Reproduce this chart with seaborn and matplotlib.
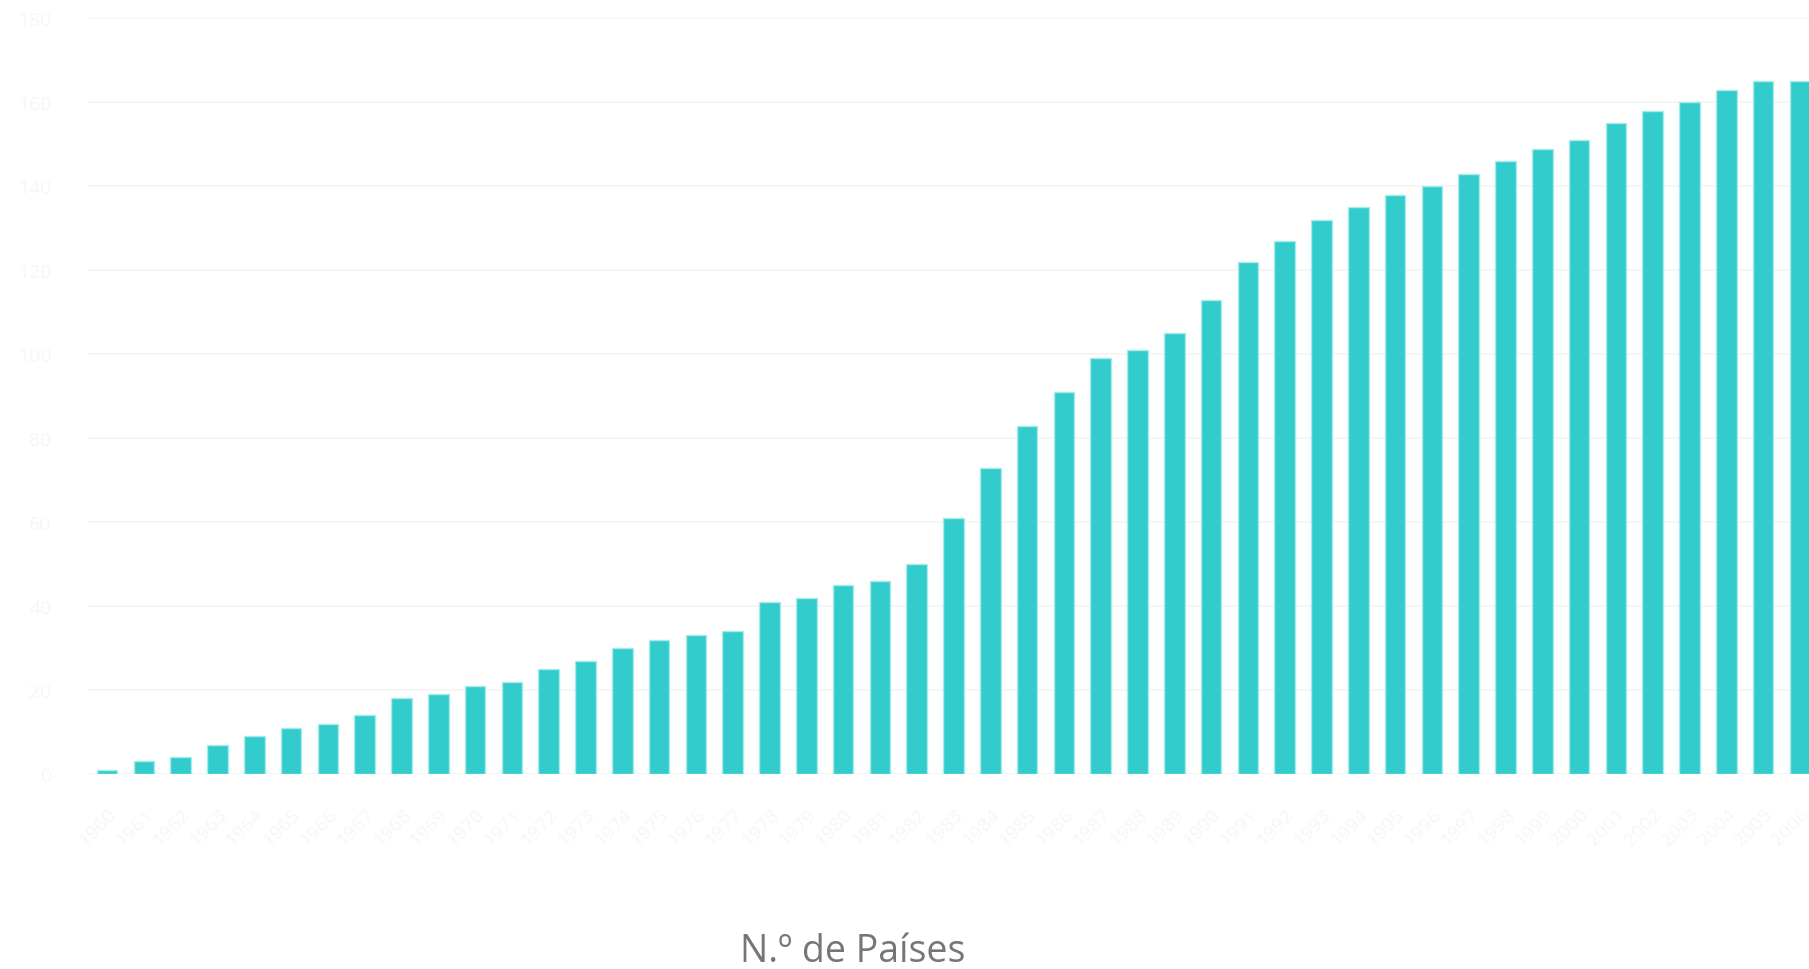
import pandas as pd
import matplotlib.pyplot as plt
import seaborn as sns

# Data (number of countries per year)
years = [str(y) for y in range(1960, 2007)]
countries = [1, 3, 4, 7, 9, 11, 12, 14, 18, 19,
             21, 22, 25, 27, 30, 32, 33, 34, 41, 42,
             45, 46, 50, 61, 73, 83, 91, 99, 101, 105,
             113, 122, 127, 132, 135, 138, 140, 143, 146, 149,
             151, 155, 158, 160, 163, 165, 165]
y_ticks = [0, 20, 40, 60, 80, 100, 120, 140, 160, 180]

df = pd.DataFrame({"Ano": years, "Países": countries})

sns.set_style("white")
plt.rcParams["font.family"] = ["Open Sans", "DejaVu Sans"]

fig = plt.figure(figsize=(18.09, 9.70), dpi=100)
ax = fig.add_axes([0.0486, 0.201, 0.9514, 0.779])

sns.barplot(data=df, x="Ano", y="Países", color="#33CCCC", saturation=1,
            width=0.56, edgecolor="#A8EBEB", linewidth=1, ax=ax, zorder=3)

ax.set_ylim(0, 180)
ax.set_xlim(-0.52, len(years) - 1 + 0.245)
ax.set_yticks(y_ticks)
ax.set_yticklabels([str(v) for v in y_ticks], color="#f6f6f6", fontsize=14)
ax.tick_params(axis="y", length=0, pad=26)
ax.tick_params(axis="x", length=0, pad=22)
plt.setp(ax.get_xticklabels(), rotation=45, ha="right", rotation_mode="anchor",
         color="#f7f7f7", fontsize=14)

ax.grid(axis="y", color="#f3f3f3", linewidth=1.2, zorder=0)
ax.set_axisbelow(True)
for side in ["top", "right", "left", "bottom"]:
    ax.spines[side].set_visible(False)
ax.set_xlabel("")
ax.set_ylabel("")

fig.text(0.4715, 0.0185, "N.º de Países", ha="center", va="center",
         fontsize=27, color="#767676")

fig.savefig("out.png", dpi=100)
